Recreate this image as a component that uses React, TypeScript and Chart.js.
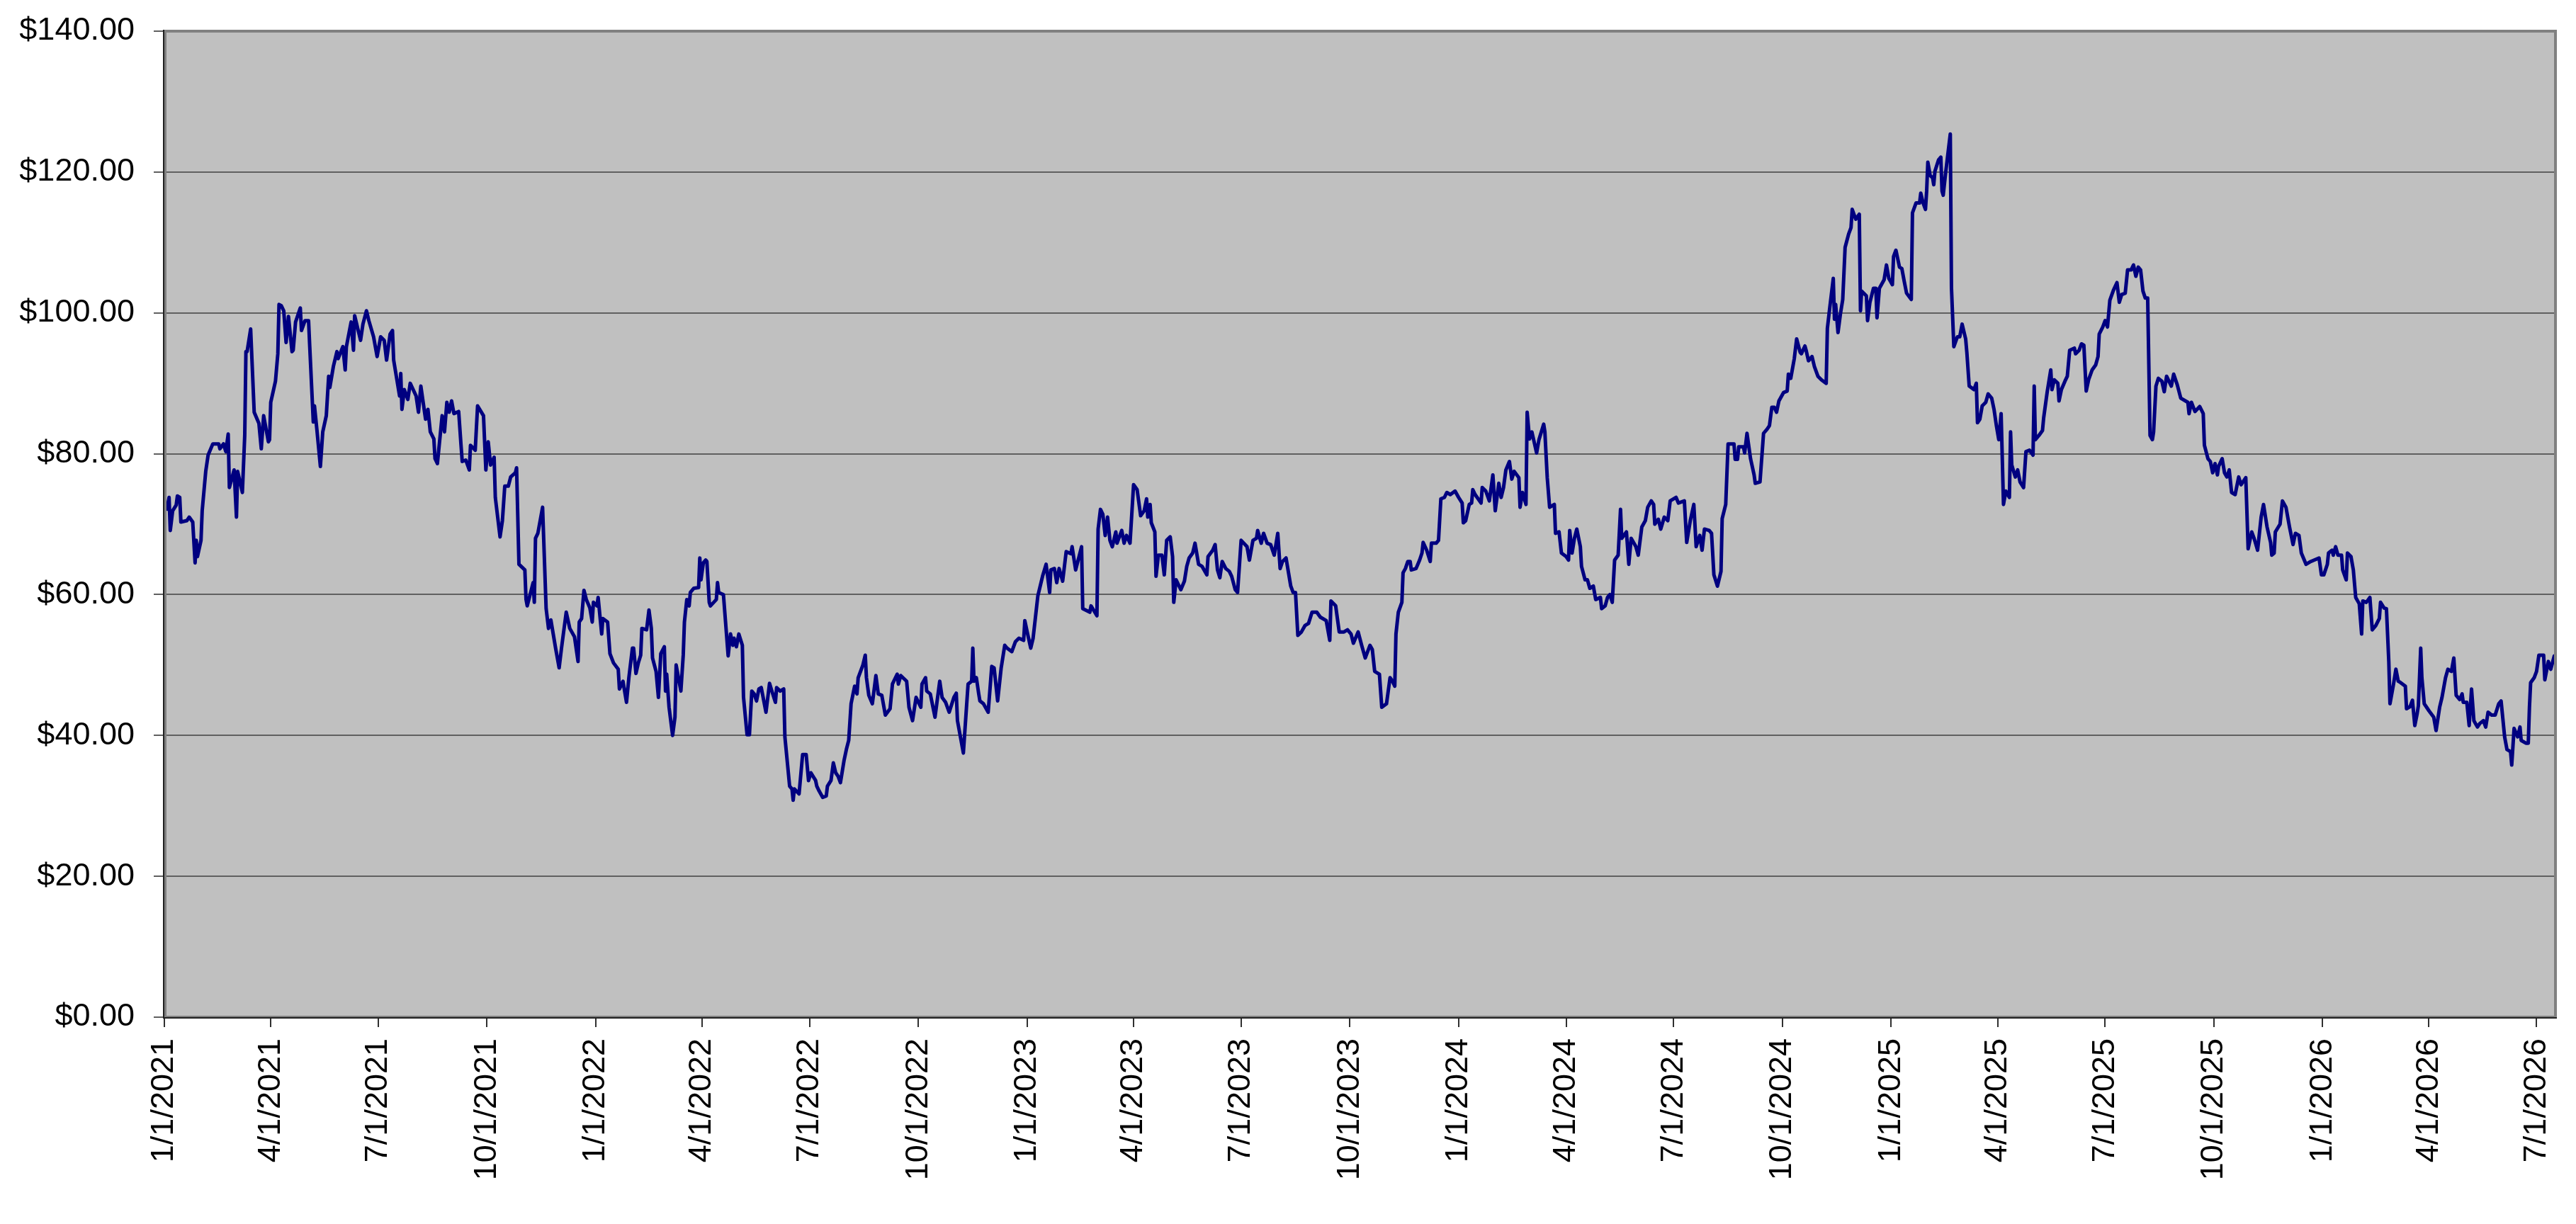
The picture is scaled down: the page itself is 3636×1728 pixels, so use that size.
import React, { useEffect, useRef } from 'react';
import { Chart, registerables } from 'chart.js';

Chart.register(...registerables);

// Days are counted from 1/1/2021; each entry is [day offset, closing price in $]
const START_DATE = '1/1/2021';

const tickLabels = [
  '1/1/2021', '4/1/2021', '7/1/2021', '10/1/2021',
  '1/1/2022', '4/1/2022', '7/1/2022', '10/1/2022',
  '1/1/2023', '4/1/2023', '7/1/2023', '10/1/2023',
  '1/1/2024', '4/1/2024', '7/1/2024', '10/1/2024',
  '1/1/2025', '4/1/2025', '7/1/2025', '10/1/2025',
  '1/1/2026', '4/1/2026', '7/1/2026',
];

const LAST_DAY = 2023;
const Y_MIN = 0;
const Y_MAX = 140;
const Y_STEP = 20;

const prices2021: [number, number][] = [
  [2, 71.9], [4, 73.8], [5, 69.1], [7, 71.9], [10, 72.7], [11, 74.0], [13, 73.8], [14, 70.3], [19, 70.5], [21, 71.0],
  [24, 70.3], [26, 64.5], [27, 67.7], [28, 65.4], [31, 67.7], [32, 71.9], [35, 77.5], [37, 79.8], [41, 81.4], [46, 81.4],
  [47, 80.7], [50, 81.4], [52, 80.3], [54, 82.8], [55, 75.2], [59, 77.7], [61, 71.0], [62, 77.5], [66, 74.5], [68, 82.6],
  [69, 94.5], [70, 94.5], [73, 97.7], [76, 85.9], [80, 84.3], [82, 80.7], [84, 85.4], [88, 81.7], [89, 82.0], [90, 87.3],
  [94, 90.3], [96, 94.2], [97, 101.2], [99, 101.0], [101, 100.3], [103, 95.8], [105, 99.5], [108, 94.5], [109, 94.7], [111, 98.7],
  [115, 100.7], [116, 97.5], [119, 98.9], [122, 98.9], [123, 95.2], [126, 84.5], [127, 86.8], [129, 83.5], [132, 78.2], [134, 83.1],
  [137, 85.4], [138, 88.2], [139, 91.0], [140, 89.4], [143, 92.4], [146, 94.5], [147, 93.5], [151, 95.2], [153, 91.9], [154, 95.2],
  [158, 98.7], [160, 94.7], [161, 99.6], [166, 96.1], [168, 98.4], [171, 100.3], [173, 98.9], [177, 96.6], [180, 93.8], [183, 96.6],
  [186, 96.1], [188, 93.3], [191, 97.0], [193, 97.5], [194, 93.3], [199, 88.2], [200, 91.4], [201, 86.3], [203, 89.1], [206, 87.7],
  [208, 90.0], [213, 88.2], [215, 85.9], [217, 89.6], [221, 84.9], [223, 86.3], [225, 83.1], [228, 82.1], [229, 79.3], [231, 78.6],
  [235, 85.4], [237, 83.1], [239, 87.3], [241, 85.9], [243, 87.5], [245, 85.7], [249, 86.0], [251, 81.2], [252, 78.9], [255, 79.1],
  [258, 77.7], [259, 81.2], [263, 80.5], [265, 86.8], [270, 85.4], [272, 77.7], [274, 81.7], [276, 78.4], [279, 79.5], [280, 73.8],
  [284, 68.2], [286, 70.5], [288, 75.4], [291, 75.4], [293, 76.7], [297, 77.3], [298, 78.0], [300, 64.3], [305, 63.5], [306, 59.3],
  [307, 58.4], [312, 61.7], [313, 58.9], [314, 68.0], [316, 68.7], [320, 72.4], [323, 58.0], [325, 55.2], [327, 56.4], [331, 52.4],
  [334, 49.6], [336, 52.4], [340, 57.5], [343, 55.2], [347, 54.0], [350, 50.5], [351, 56.1], [353, 56.6], [355, 60.6], [357, 59.3],
  [360, 58.1], [362, 56.1], [363, 58.9],
];

const prices2022: [number, number][] = [
  [366, 58.4], [367, 59.6], [370, 54.4], [371, 56.6], [375, 56.1], [377, 51.6], [380, 50.3], [384, 49.4], [385, 46.6], [388, 47.7],
  [391, 44.7], [393, 48.2], [396, 52.4], [397, 52.4], [399, 48.8], [401, 50.3], [403, 51.4], [404, 55.2], [408, 55.0], [410, 57.8],
  [412, 55.2], [413, 51.0], [416, 49.1], [418, 45.4], [420, 51.6], [423, 52.6], [424, 46.3], [425, 48.7], [427, 44.0], [430, 40.0],
  [432, 42.6], [433, 50.0], [437, 46.3], [439, 51.4], [440, 56.1], [442, 59.3], [444, 58.4], [445, 60.3], [448, 60.9], [452, 61.0],
  [453, 65.2], [454, 62.1], [456, 64.5], [458, 64.9], [459, 64.7], [461, 58.9], [462, 58.4], [467, 59.3], [468, 61.7], [469, 60.3],
  [473, 60.0], [477, 51.3], [479, 54.4], [481, 52.8], [482, 53.8], [484, 52.6], [486, 54.4], [489, 52.8], [490, 45.4], [493, 40.1],
  [495, 40.1], [497, 46.3], [499, 45.9], [501, 44.9], [503, 46.6], [505, 46.8], [509, 43.3], [512, 47.4], [514, 46.3], [517, 44.7],
  [518, 46.8], [521, 46.3], [524, 46.6], [525, 39.8], [529, 32.8], [531, 32.4], [532, 30.8], [533, 32.4], [537, 31.7], [540, 37.3],
  [543, 37.3], [545, 33.6], [547, 34.7], [551, 33.6], [552, 32.8], [554, 32.1], [557, 31.2], [560, 31.4], [561, 32.8], [564, 33.6],
  [566, 36.1], [568, 34.7], [570, 34.2], [572, 33.3], [575, 36.4], [577, 38.0], [579, 39.3], [581, 44.5], [584, 47.0], [586, 45.9],
  [587, 48.2], [591, 50.0], [593, 51.4], [594, 48.2], [596, 45.7], [599, 44.5], [602, 48.5], [604, 45.9], [607, 45.7], [610, 42.9],
  [614, 43.8], [616, 47.3], [620, 48.7], [621, 47.3], [623, 48.5], [628, 47.7], [630, 44.0], [633, 42.1], [636, 45.4], [640, 44.0],
  [641, 47.3], [644, 48.2], [645, 46.3], [648, 45.9], [652, 42.6], [656, 47.7], [658, 45.4], [661, 44.7], [664, 43.3], [668, 45.4],
  [670, 46.0], [671, 42.1], [676, 37.5], [679, 44.9], [680, 47.3], [683, 47.7], [684, 52.4], [685, 47.7], [687, 48.2], [689, 45.9],
  [690, 44.9], [693, 44.5], [697, 43.3], [700, 49.8], [702, 49.6], [705, 44.9], [708, 49.6], [711, 52.8], [713, 52.4], [717, 51.9],
  [720, 53.3], [723, 53.8], [727, 53.5], [728, 56.3],
];

const prices2023: [number, number][] = [
  [730, 54.7], [733, 52.4], [735, 53.8], [737, 56.8], [739, 59.8], [743, 62.6], [746, 64.3], [749, 60.3], [750, 63.5], [753, 63.7],
  [755, 61.7], [757, 63.7], [760, 61.9], [763, 66.1], [767, 65.8], [768, 66.8], [771, 63.5], [776, 66.8], [777, 58.0], [783, 57.5],
  [784, 58.4], [789, 57.0], [790, 69.3], [792, 72.1], [794, 71.4], [796, 68.4], [798, 71.0], [800, 67.7], [802, 66.8], [805, 68.9],
  [806, 67.3], [810, 69.1], [812, 67.3], [814, 68.4], [817, 67.3], [820, 75.6], [823, 74.9], [826, 71.2], [829, 71.9], [831, 73.6],
  [832, 71.0], [834, 72.8], [835, 70.2], [838, 68.9], [839, 62.6], [841, 65.6], [844, 65.6], [846, 62.8], [848, 67.7], [851, 68.2],
  [853, 65.4], [854, 58.9], [856, 62.1], [860, 60.7], [863, 61.9], [865, 64.0], [867, 65.2], [870, 65.9], [872, 67.3], [875, 64.3],
  [878, 64.0], [882, 62.8], [883, 65.4], [887, 66.3], [889, 67.1], [891, 63.5], [893, 62.4], [895, 64.7], [898, 63.7], [901, 63.3],
  [903, 62.6], [906, 60.7], [908, 60.3], [911, 67.7], [916, 66.8], [918, 64.9], [921, 67.7], [924, 68.0], [925, 69.1], [928, 67.3],
  [930, 68.7], [933, 67.3], [936, 67.1], [939, 65.6], [942, 68.7], [944, 63.7], [946, 64.7], [949, 65.2], [953, 61.2], [955, 60.3],
  [957, 60.3], [959, 54.2], [962, 54.7], [965, 55.6], [968, 55.9], [971, 57.5], [975, 57.5], [978, 56.8], [983, 56.3], [986, 53.5],
  [987, 59.1], [991, 58.4], [994, 54.7], [998, 54.7], [1001, 55.0], [1004, 54.4], [1006, 53.1], [1010, 54.7], [1013, 52.8], [1016, 51.0],
  [1020, 52.8], [1022, 52.2], [1024, 49.1], [1028, 48.7], [1030, 44.0], [1034, 44.5], [1037, 48.2], [1039, 47.7], [1041, 47.0], [1042, 54.4],
  [1044, 57.5], [1047, 58.9], [1048, 63.1], [1050, 63.7], [1052, 64.7], [1054, 64.7], [1055, 63.5], [1059, 63.7], [1062, 64.9], [1064, 65.9],
  [1065, 67.4], [1068, 66.3], [1071, 64.7], [1072, 67.3], [1076, 67.3], [1078, 67.7], [1080, 73.6], [1083, 73.8], [1085, 74.5], [1088, 74.2],
  [1092, 74.7],
];

const prices2024: [number, number][] = [
  [1095, 73.8], [1098, 73.0], [1099, 70.2], [1101, 70.5], [1104, 72.8], [1106, 73.0], [1107, 74.9], [1109, 74.2], [1114, 73.0], [1115, 75.2],
  [1118, 74.7], [1121, 73.3], [1124, 77.0], [1126, 71.9], [1129, 75.8], [1131, 73.8], [1133, 75.2], [1135, 77.7], [1138, 78.9], [1140, 76.4],
  [1142, 77.5], [1146, 76.6], [1147, 72.4], [1149, 74.5], [1152, 72.8], [1153, 85.9], [1155, 82.1], [1157, 83.1], [1161, 80.1], [1163, 82.0],
  [1167, 84.2], [1168, 83.1], [1170, 76.6], [1172, 72.4], [1176, 72.8], [1177, 68.7], [1180, 68.9], [1182, 65.9], [1186, 65.4], [1188, 64.9],
  [1189, 69.1], [1191, 65.9], [1193, 68.0], [1195, 69.3], [1198, 66.8], [1199, 64.0], [1202, 62.1], [1204, 62.1], [1206, 60.9], [1209, 61.2],
  [1211, 59.3], [1215, 59.6], [1216, 58.0], [1219, 58.4], [1221, 59.6], [1223, 60.0], [1225, 58.9], [1227, 64.9], [1230, 65.6], [1232, 72.1],
  [1233, 68.0], [1237, 68.9], [1239, 64.3], [1241, 68.0], [1245, 66.8], [1247, 65.6], [1250, 69.6], [1253, 70.5], [1255, 72.4], [1258, 73.3],
  [1260, 72.8], [1261, 70.0], [1264, 70.7], [1266, 69.3], [1269, 71.0], [1272, 70.5], [1274, 73.3], [1279, 73.8], [1281, 73.0], [1286, 73.3],
  [1288, 67.4], [1291, 70.5], [1294, 72.8], [1296, 66.8], [1299, 68.4], [1301, 66.3], [1303, 69.3], [1307, 69.1], [1309, 68.7], [1311, 62.8],
  [1314, 61.2], [1317, 63.3], [1318, 70.8], [1321, 72.8], [1323, 81.4], [1328, 81.4], [1329, 79.2], [1331, 79.2], [1332, 81.0], [1336, 81.0],
  [1337, 80.1], [1339, 82.9], [1342, 79.3], [1345, 77.0], [1346, 75.8], [1350, 76.0], [1353, 82.9], [1356, 83.5], [1358, 84.0], [1360, 86.6],
  [1362, 86.6], [1364, 85.9], [1366, 87.5], [1370, 88.7], [1373, 88.9], [1374, 91.3], [1376, 90.7], [1379, 93.5], [1381, 96.3], [1384, 94.4],
  [1385, 94.2], [1388, 95.3], [1389, 94.7], [1391, 93.2], [1394, 93.8], [1396, 92.4], [1399, 91.0], [1402, 90.5], [1406, 90.0], [1407, 97.8],
  [1409, 100.7], [1412, 104.9], [1413, 99.1], [1414, 101.2], [1416, 97.2], [1418, 99.8], [1420, 101.9], [1422, 109.3], [1425, 111.2], [1427, 112.1],
  [1428, 114.7], [1431, 113.3], [1434, 114.0], [1435, 100.3], [1436, 103.1], [1440, 102.4], [1441, 98.9], [1443, 101.5], [1446, 103.5], [1448, 103.5],
  [1449, 99.3], [1451, 103.5], [1455, 104.7], [1457, 106.8], [1459, 104.9],
];

const prices2025: [number, number][] = [
  [1462, 104.0], [1463, 108.0], [1465, 108.9], [1468, 106.5], [1470, 106.3], [1472, 104.5], [1474, 102.8], [1478, 101.9], [1479, 114.2], [1482, 115.6],
  [1485, 115.6], [1486, 117.0], [1488, 115.6], [1490, 114.7], [1491, 117.3], [1492, 121.4], [1494, 119.5], [1496, 119.2], [1497, 118.2], [1498, 120.1],
  [1501, 121.7], [1503, 122.1], [1504, 117.3], [1505, 116.7], [1507, 119.8], [1511, 125.4], [1512, 103.5], [1514, 95.2], [1517, 96.6], [1519, 96.6],
  [1521, 98.4], [1524, 96.3], [1525, 94.4], [1527, 89.6], [1531, 89.1], [1533, 90.0], [1534, 84.4], [1536, 84.9], [1538, 86.8], [1541, 87.3],
  [1543, 88.5], [1546, 87.9], [1548, 86.3], [1550, 84.0], [1552, 82.0], [1554, 85.7], [1556, 72.8], [1558, 74.7], [1561, 73.8], [1562, 83.1],
  [1563, 78.4], [1566, 76.7], [1568, 77.7], [1570, 76.0], [1573, 75.2], [1575, 80.3], [1578, 80.5], [1581, 79.8], [1582, 89.6], [1583, 82.0],
  [1586, 82.6], [1589, 83.3], [1590, 85.1], [1593, 88.8], [1596, 91.9], [1597, 89.1], [1599, 90.5], [1602, 90.0], [1603, 87.5], [1605, 89.1],
  [1608, 90.3], [1610, 91.0], [1612, 94.7], [1616, 95.0], [1617, 94.2], [1620, 94.7], [1622, 95.6], [1624, 95.4], [1626, 88.9], [1628, 90.5],
  [1631, 91.9], [1634, 92.6], [1636, 93.8], [1637, 97.0], [1640, 98.0], [1642, 98.9], [1644, 98.0], [1646, 101.8], [1649, 103.2], [1652, 104.3],
  [1654, 101.5], [1656, 102.6], [1659, 102.8], [1661, 106.1], [1664, 106.1], [1666, 106.8], [1668, 105.2], [1670, 106.5], [1672, 106.1], [1674, 103.1],
  [1676, 102.1], [1678, 102.1], [1680, 82.6], [1682, 82.0], [1683, 83.1], [1685, 89.6], [1687, 90.7], [1690, 90.3], [1692, 88.8], [1694, 91.0],
  [1698, 89.6], [1700, 91.3], [1703, 89.8], [1706, 87.9], [1712, 87.3], [1713, 85.7], [1715, 87.3], [1718, 86.0], [1722, 86.7], [1725, 85.7],
  [1726, 81.2], [1729, 79.3], [1731, 78.9], [1733, 77.3], [1735, 78.6], [1737, 77.0], [1738, 78.2], [1741, 79.3], [1743, 77.3], [1745, 76.7],
  [1747, 77.7], [1749, 74.5], [1752, 74.2], [1755, 76.7], [1757, 75.6], [1761, 76.6], [1763, 66.5], [1766, 68.9], [1768, 68.0], [1771, 66.3],
  [1774, 71.0], [1776, 72.8], [1779, 69.6], [1782, 67.4], [1783, 65.6], [1785, 65.9], [1786, 68.9], [1790, 70.0], [1792, 73.3], [1795, 72.4],
  [1798, 69.6], [1801, 67.1], [1803, 68.7], [1806, 68.4], [1808, 65.9], [1812, 64.3], [1816, 64.7], [1823, 65.2], [1825, 62.8],
];

const prices2026: [number, number][] = [
  [1827, 62.8], [1830, 64.3], [1831, 65.9], [1834, 66.3], [1835, 65.6], [1837, 66.8], [1839, 65.6], [1842, 65.6], [1843, 63.5], [1846, 62.1],
  [1847, 65.9], [1850, 65.4], [1852, 63.5], [1854, 59.6], [1857, 58.7], [1859, 54.4], [1860, 59.1], [1863, 58.9], [1866, 59.6], [1868, 55.0],
  [1871, 55.6], [1874, 56.6], [1875, 58.9], [1878, 58.1], [1880, 58.0], [1882, 50.5], [1883, 44.5], [1886, 47.3], [1888, 49.4], [1890, 47.7],
  [1892, 47.5], [1896, 47.0], [1897, 43.8], [1900, 44.1], [1902, 45.0], [1904, 41.4], [1906, 43.1], [1907, 44.2], [1909, 52.4], [1910, 48.2],
  [1912, 44.5], [1914, 44.0], [1916, 43.5], [1920, 42.6], [1922, 40.7], [1925, 44.0], [1927, 45.4], [1930, 48.2], [1932, 49.4], [1935, 49.1],
  [1937, 51.0], [1939, 45.7], [1942, 45.1], [1944, 45.9], [1945, 44.7], [1948, 44.7], [1950, 41.4], [1952, 46.6], [1954, 42.1], [1957, 41.2],
  [1959, 41.7], [1962, 42.1], [1964, 41.2], [1966, 43.3], [1969, 42.9], [1972, 42.9], [1975, 44.5], [1977, 44.9], [1980, 39.8], [1982, 38.0],
  [1985, 37.7], [1986, 35.8], [1988, 41.0], [1991, 39.8], [1993, 41.2], [1994, 39.3], [1998, 38.9], [2000, 38.9], [2001, 44.0], [2002, 47.5],
  [2005, 48.2], [2007, 49.1], [2009, 51.4], [2013, 51.4], [2014, 47.9], [2017, 50.5], [2019, 49.4], [2022, 51.3], [2023, 50.3],
];

function dayOffset(label: string): number {
  const [m, d, y] = label.split('/').map(Number);
  const [m0, d0, y0] = START_DATE.split('/').map(Number);
  return Math.round((Date.UTC(y, m - 1, d) - Date.UTC(y0, m0 - 1, d0)) / 86400000);
}

const W = 3636;
const H = 1728;
const FONT = "'Liberation Sans', Arial, sans-serif";

const plotFrame = {
  id: 'plotFrame',
  beforeDraw(chart: any) {
    const { ctx, chartArea: a } = chart;
    ctx.save();
    ctx.fillStyle = '#ffffff';
    ctx.fillRect(0, 0, chart.width, chart.height);
    ctx.fillStyle = '#c0c0c0';
    ctx.fillRect(a.left, a.top, a.right - a.left, a.bottom - a.top);
    ctx.restore();
  },
  afterDraw(chart: any) {
    const { ctx, chartArea: a } = chart;
    ctx.save();
    ctx.strokeStyle = '#808080';
    ctx.lineWidth = 4;
    ctx.strokeRect(a.left + 1, a.top, a.right - a.left - 1, a.bottom - a.top);
    ctx.strokeStyle = '#202020';
    ctx.lineWidth = 2;
    ctx.beginPath();
    ctx.moveTo(a.left - 1, a.top - 2);
    ctx.lineTo(a.left - 1, a.bottom + 1);
    ctx.lineTo(a.right + 2, a.bottom + 1);
    ctx.stroke();
    ctx.restore();
  },
};

export default function App() {
  const canvasRef = useRef<HTMLCanvasElement | null>(null);

  useEffect(() => {
    document.body.style.margin = '0';
    document.body.style.overflow = 'hidden';
    const canvas = canvasRef.current;
    if (!canvas) return;

    const allPrices = [...prices2021, ...prices2022, ...prices2023, ...prices2024, ...prices2025, ...prices2026];
    const tickDays = tickLabels.map(dayOffset);

    const chart = new Chart(canvas, {
      type: 'line',
      data: {
        datasets: [
          {
            data: allPrices.map(([d, p]) => ({ x: d, y: p })),
            borderColor: '#000080',
            borderWidth: 5,
            borderJoinStyle: 'round',
            pointRadius: 0,
            pointHoverRadius: 0,
            tension: 0,
            fill: false,
          },
        ],
      },
      options: {
        animation: false,
        responsive: false,
        devicePixelRatio: 1,
        events: [],
        layout: { padding: { left: 0, top: 44, right: 29, bottom: 0 } },
        plugins: {
          legend: { display: false },
          tooltip: { enabled: false },
          title: { display: false },
        },
        scales: {
          x: {
            type: 'linear',
            min: 0,
            max: LAST_DAY,
            afterBuildTicks: (scale: any) => {
              scale.ticks = tickDays.map((v) => ({ value: v }));
            },
            afterFit: (scale: any) => {
              scale.height = H - 1436;
              scale.paddingLeft = 0;
              scale.paddingRight = 0;
            },
            border: { display: false },
            grid: {
              drawOnChartArea: false,
              drawTicks: true,
              tickLength: 14,
              color: '#303030',
              lineWidth: 2,
            },
            ticks: {
              autoSkip: false,
              minRotation: 90,
              maxRotation: 90,
              padding: 16,
              color: '#000000',
              font: { family: FONT, size: 45 },
              callback: (value: any) => {
                const i = tickDays.indexOf(Number(value));
                return i >= 0 ? tickLabels[i] : '';
              },
            },
          },
          y: {
            type: 'linear',
            min: Y_MIN,
            max: Y_MAX,
            afterFit: (scale: any) => {
              scale.width = 232;
              scale.paddingTop = 0;
              scale.paddingBottom = 0;
            },
            border: { display: false },
            grid: {
              drawTicks: true,
              tickLength: 15,
              color: '#606060',
              lineWidth: 2,
            },
            ticks: {
              stepSize: Y_STEP,
              padding: 27,
              color: '#000000',
              font: { family: FONT, size: 45 },
              callback: (value: any) => '$' + Number(value).toFixed(2),
            },
          },
        },
      },
      plugins: [plotFrame],
    });

    return () => {
      chart.destroy();
    };
  }, []);

  return (
    <div style={{ width: W, height: H, position: 'relative' }}>
      <canvas ref={canvasRef} width={W} height={H} style={{ display: 'block', width: W, height: H }} />
    </div>
  );
}
